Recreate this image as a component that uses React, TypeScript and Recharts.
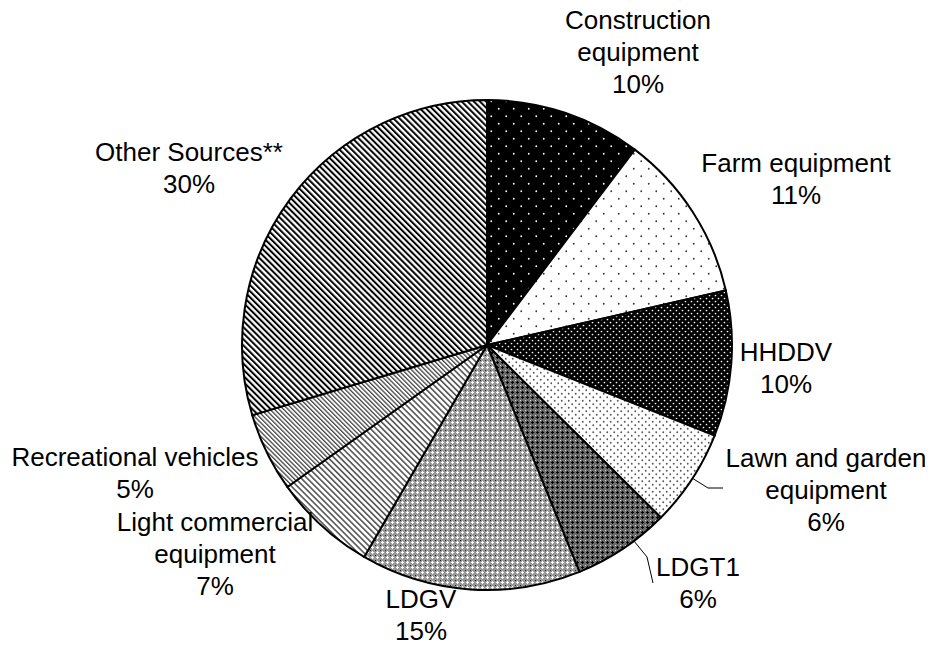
import React from "react";
import { PieChart, Pie, Cell } from "recharts";

const categories = [
  ["Construction", "equipment"],
  ["Farm equipment"],
  ["HHDDV"],
  ["Lawn and garden", "equipment"],
  ["LDGT1"],
  ["LDGV"],
  ["Light commercial", "equipment"],
  ["Recreational vehicles"],
  ["Other Sources**"],
];
const values = [10.3, 11.1, 9.6, 6.4, 6.4, 14.5, 6.8, 5.2, 29.6];
const patternIds = ["pCon", "pFarm", "pHH", "pLawn", "pLDGT1", "pLDGV", "pLight", "pRec", "pOther"];

// label placement relative to pie center (layout, not data)
const labelLayout = [
  { dx: 151, top: -325 },
  { dx: 309, top: -182 },
  { dx: 299, top: 7 },
  { dx: 339, top: 113 },
  { dx: 211, top: 222 },
  { dx: -66, top: 254 },
  { dx: -272, top: 177 },
  { dx: -352, top: 112 },
  { dx: -298, top: -193 },
];
const leaders: Record<number, number[][]> = {
  3: [[205, 133], [221, 143], [236, 143]],
  4: [[147, 196], [160, 212], [166, 238]],
};

const total = values.reduce((a, b) => a + b, 0);
const data = categories.map((c, i) => ({ name: c.join(" "), value: values[i] }));

const LINE = 32;
const FONT = 26;

const renderLabel = (props: any) => {
  const { cx, cy, index } = props;
  const lay = labelLayout[index];
  const lines = [...categories[index], `${Math.round((values[index] / total) * 100)}%`];
  const pts = leaders[index];
  return (
    <g key={`lab-${index}`}>
      {pts && (
        <polyline
          points={pts.map(([x, y]) => `${cx + x},${cy + y}`).join(" ")}
          fill="none"
          stroke="#000"
          strokeWidth={1}
        />
      )}
      <text
        textAnchor="middle"
        fontFamily="'Liberation Sans', Arial, sans-serif"
        fontSize={FONT}
        fill="#000"
      >
        {lines.map((t, k) => (
          <tspan key={k} x={cx + lay.dx} y={cy + lay.top + k * LINE} dominantBaseline="central">
            {t}
          </tspan>
        ))}
      </text>
    </g>
  );
};

export default function App() {
  return (
    <div style={{ margin: "-8px 0 0 -8px", width: 933, height: 662 }}>
      <PieChart width={933} height={662} margin={{ top: 0, right: 0, bottom: 0, left: 0 }}>
        <defs>
          <pattern id="pCon" width="15" height="15" patternUnits="userSpaceOnUse">
            <rect width="15" height="15" fill="#000" />
            <circle cx="3.75" cy="3.75" r="0.9" fill="#fff" />
            <circle cx="11.25" cy="11.25" r="0.9" fill="#fff" />
          </pattern>
          <pattern id="pFarm" width="15" height="15" patternUnits="userSpaceOnUse">
            <rect width="15" height="15" fill="#fff" />
            <circle cx="3.75" cy="3.75" r="0.9" fill="#333" />
            <circle cx="11.25" cy="11.25" r="0.9" fill="#333" />
          </pattern>
          <pattern id="pHH" width="6" height="6" patternUnits="userSpaceOnUse">
            <rect width="6" height="6" fill="#000" />
            <circle cx="1.5" cy="1.5" r="0.85" fill="#fff" />
            <circle cx="4.5" cy="4.5" r="0.85" fill="#fff" />
          </pattern>
          <pattern id="pLawn" width="7" height="7" patternUnits="userSpaceOnUse">
            <rect width="7" height="7" fill="#fff" />
            <circle cx="1.75" cy="1.75" r="0.9" fill="#555" />
            <circle cx="5.25" cy="5.25" r="0.9" fill="#555" />
          </pattern>
          <pattern id="pLDGT1" width="5" height="5" patternUnits="userSpaceOnUse">
            <rect width="5" height="5" fill="#6a6a6a" />
            <rect x="1" y="2" width="3" height="1" fill="#000" />
            <rect x="2" y="1" width="1" height="3" fill="#000" />
            <rect x="0" y="0" width="1" height="1" fill="#ddd" />
          </pattern>
          <pattern id="pLDGV" width="5" height="5" patternUnits="userSpaceOnUse">
            <rect width="5" height="5" fill="#999" />
            <rect x="1" y="2" width="3" height="1" fill="#fff" />
            <rect x="2" y="1" width="1" height="3" fill="#fff" />
            <rect x="0" y="0" width="1" height="1" fill="#222" />
          </pattern>
          <pattern id="pLight" width="4.2" height="4.2" patternUnits="userSpaceOnUse" patternTransform="rotate(-45)">
            <rect width="4.2" height="4.2" fill="#fff" />
            <rect x="0" y="0" width="1.6" height="4.2" fill="#555" />
          </pattern>
          <pattern id="pRec" width="3.2" height="3.2" patternUnits="userSpaceOnUse" patternTransform="rotate(-45)">
            <rect width="3.2" height="3.2" fill="#fff" />
            <rect x="0" y="0" width="1.3" height="3.2" fill="#444" />
          </pattern>
          <pattern id="pOther" width="4.3" height="4.3" patternUnits="userSpaceOnUse" patternTransform="rotate(-45)">
            <rect width="4.3" height="4.3" fill="#fff" />
            <rect x="0" y="0" width="2" height="4.3" fill="#000" />
          </pattern>
        </defs>
        <Pie
          data={data}
          dataKey="value"
          nameKey="name"
          cx={487}
          cy={345}
          outerRadius={245}
          startAngle={90}
          endAngle={-270}
          stroke="#000"
          strokeWidth={2}
          label={renderLabel}
          labelLine={false}
          isAnimationActive={false}
        >
          {data.map((d, i) => (
            <Cell key={d.name} fill={`url(#${patternIds[i]})`} />
          ))}
        </Pie>
      </PieChart>
    </div>
  );
}
